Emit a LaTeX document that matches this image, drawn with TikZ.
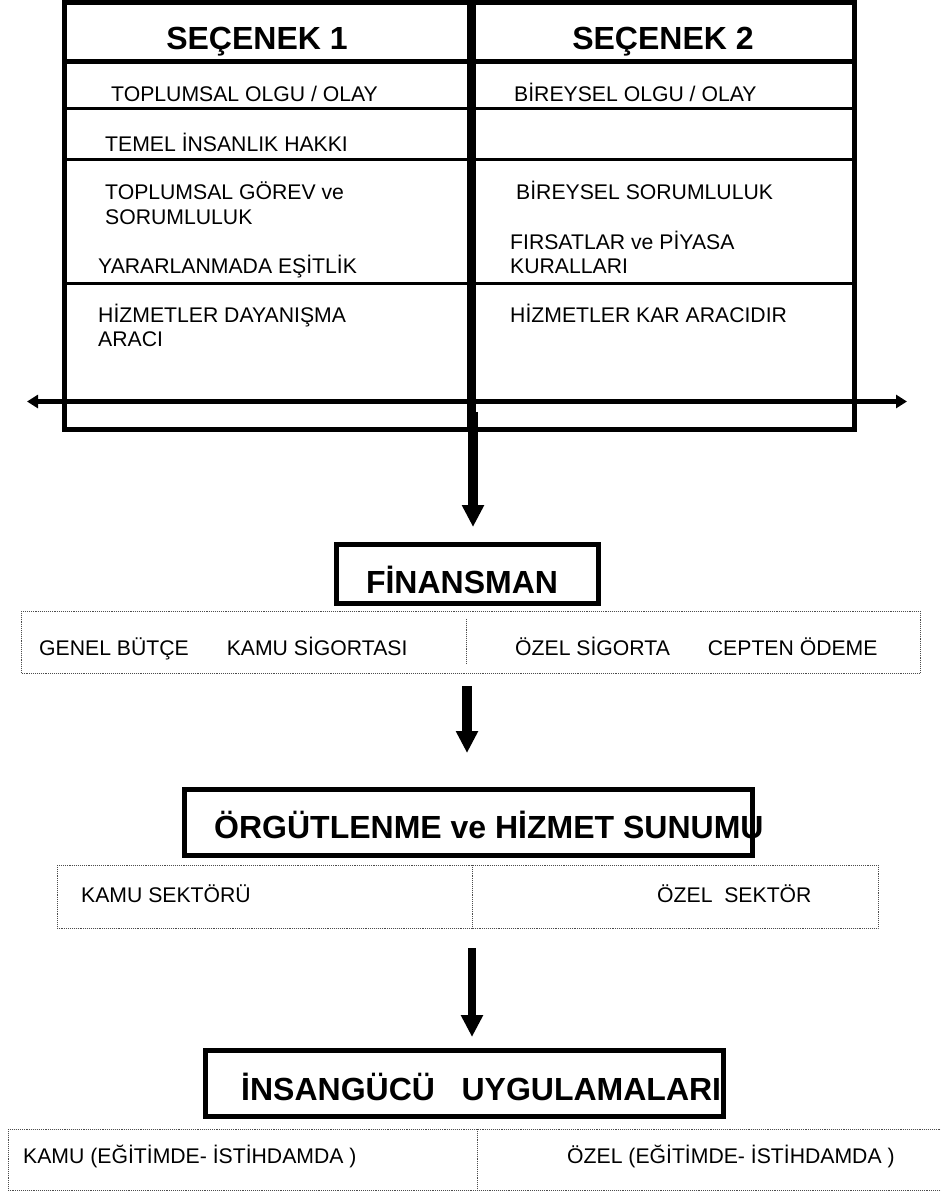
\documentclass[tikz,border=0pt]{standalone}
\usepackage{fontspec}
\setmainfont{Liberation Sans}
\usetikzlibrary{arrows.meta}
\begin{document}
\begin{tikzpicture}[x=1pt,y=-1pt,
  body/.style={font=\fontsize{21.2}{25}\selectfont, inner sep=0pt, anchor=base west},
  head/.style={font=\fontsize{32}{38}\selectfont\bfseries, inner sep=0pt},
  thickbox/.style={draw, line width=5pt},
  dotbox/.style={draw=black!70, line width=0.9pt, densely dotted},
  bigarrow/.style={line width=10pt, -{Triangle[length=22pt 0, width=21pt 0]}},
  rowline/.style={line width=3pt},
  axisarrow/.style={line width=5pt, {Triangle[length=11pt 0, width=13pt 0]}-{Triangle[length=11pt 0, width=13pt 0]}}
]
\useasboundingbox (0,0) rectangle (941,1192);

% ---------- table ----------
\draw[line width=5pt] (64.5,2.5) rectangle (854.5,429.5);
\draw[line width=9pt] (471,0) -- (471,430);
\draw[line width=5pt] (64,61.5) -- (855,61.5);
\draw[line width=3.5pt] (64,108.5) -- (855,108.5);
\draw[rowline] (64,159.5) -- (855,159.5);
\draw[rowline] (64,283.5) -- (855,283.5);
\coordinate (axL) at (27,401.5);
\coordinate (axR) at (907,401.5);
\draw[axisarrow] (axL) -- (axR);

\node[head, anchor=base] (s1) at (257,49) {SEÇENEK 1};
\node[head, anchor=base] (s2) at (663,49) {SEÇENEK 2};

\node[body] (l1) at (111,101.5) {TOPLUMSAL OLGU / OLAY};
\node[body] (r1) at (514,101.5) {BİREYSEL OLGU / OLAY};
\node[body] (l2) at (105,151) {TEMEL İNSANLIK HAKKI};
\node[body] (l3a) at (105,199) {TOPLUMSAL GÖREV ve};
\node[body] (l3b) at (105,224) {SORUMLULUK};
\node[body] (r3) at (516,199) {BİREYSEL SORUMLULUK};
\node[body] (r4a) at (510,249) {FIRSATLAR ve PİYASA};
\node[body] (r4b) at (510,273) {KURALLARI};
\node[body] (l4) at (98,273) {YARARLANMADA EŞİTLİK};
\node[body] (l5a) at (98,322) {HİZMETLER DAYANIŞMA};
\node[body] (l5b) at (98,346) {ARACI};
\node[body] (r5) at (510,322) {HİZMETLER KAR ARACIDIR};

% ---------- arrow 1 ----------
\coordinate (a1s) at (473,412);
\coordinate (a1e) at (473,527);
\draw[bigarrow] (a1s) -- (a1e);

% ---------- FINANSMAN ----------
\draw[thickbox] (336.5,544.5) rectangle (598,603);
\node[head, anchor=base] (fin) at (462,593) {FİNANSMAN};
\draw[dotbox] (21,611) rectangle (920,673);
\draw[dotbox] (466,619) -- (466,663);
\node[body] (f1) at (39,655) {GENEL BÜTÇE\hspace{38pt}KAMU SİGORTASI};
\node[body] (f2) at (515,655) {ÖZEL SİGORTA\hspace{38pt}CEPTEN ÖDEME};

% ---------- arrow 2 ----------
\coordinate (a2s) at (467,686);
\coordinate (a2e) at (467,753);
\draw[bigarrow] (a2s) -- (a2e);

% ---------- ORGUTLENME ----------
\draw[thickbox] (184.5,789.5) rectangle (752.5,855);
\node[head, anchor=base west] (org) at (214,838) {ÖRGÜTLENME ve HİZMET SUNUMU};
\draw[dotbox] (57,865) rectangle (878,928);
\draw[dotbox] (472,865) -- (472,928);
\node[body] (o1) at (81,902) {KAMU SEKTÖRÜ};
\node[body] (o2) at (657,902) {ÖZEL\ \ SEKTÖR};

% ---------- arrow 3 ----------
\coordinate (a3s) at (472,948);
\coordinate (a3e) at (472,1037);
\draw[bigarrow, line width=8pt] (a3s) -- (a3e);

% ---------- INSANGUCU ----------
\draw[thickbox] (205,1050.5) rectangle (723,1116.5);
\node[head, anchor=base west] (ins) at (241,1100) {İNSANGÜCÜ\ \ \ UYGULAMALARI};
\draw[dotbox] (8,1129) rectangle (948,1190);
\draw[dotbox] (477,1129) -- (477,1190);
\node[body] (i1) at (23,1163) {KAMU (EĞİTİMDE- İSTİHDAMDA )};
\node[body] (i2) at (567,1163) {ÖZEL (EĞİTİMDE- İSTİHDAMDA )};
\end{tikzpicture}
\end{document}
